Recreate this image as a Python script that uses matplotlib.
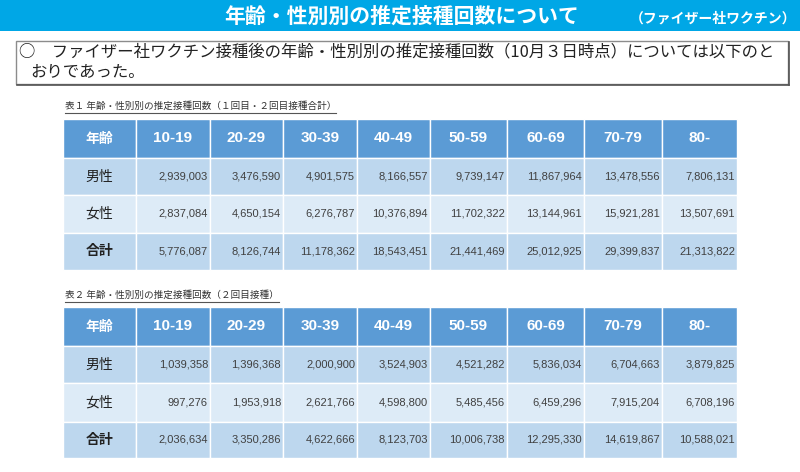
import matplotlib.pyplot as plt
from matplotlib.patches import Rectangle

plt.rcParams['font.family'] = ['Noto Sans CJK JP', 'DejaVu Sans']

# data
ages = ['10-19', '20-29', '30-39', '40-49', '50-59', '60-69', '70-79', '80-']
row_labels = ['男性', '女性', '合計']

male1 = [2939003, 3476590, 4901575, 8166557, 9739147, 11867964, 13478556, 7806131]
female1 = [2837084, 4650154, 6276787, 10376894, 11702322, 13144961, 15921281, 13507691]
total1 = [5776087, 8126744, 11178362, 18543451, 21441469, 25012925, 29399837, 21313822]

male2 = [1039358, 1396368, 2000900, 3524903, 4521282, 5836034, 6704663, 3879825]
female2 = [997276, 1953918, 2621766, 4598800, 5485456, 6459296, 7915204, 6708196]
total2 = [2036634, 3350286, 4622666, 8123703, 10006738, 12295330, 14619867, 10588021]

title = '年齢・性別別の推定接種回数について'
subtitle = '（ファイザー社ワクチン）'
note1 = '○　ファイザー社ワクチン接種後の年齢・性別別の推定接種回数（10月３日時点）については以下のと'
note2 = 'おりであった。'
cap1 = '表１ 年齢・性別別の推定接種回数（１回目・２回目接種合計）'
cap2 = '表２ 年齢・性別別の推定接種回数（２回目接種）'

# layout
col_edges = [63, 136, 210, 283, 357, 430, 507, 584, 662, 737]
head_col = '#5b9bd5'
row_cols = ['#bdd7ee', '#ddebf7', '#bdd7ee']

fig = plt.figure(figsize=(8, 4.72), dpi=100)
ax = fig.add_axes([0, 0, 1, 1])
ax.set_xlim(0, 800)
ax.set_ylim(472, 0)
ax.axis('off')

# title bar
ax.add_patch(Rectangle((0, 0), 800, 31, color='#00a7e6', lw=0))
ax.text(402, 16, title, color='white', fontsize=15, fontweight='bold', ha='center', va='center')
ax.text(796, 18, subtitle, color='white', fontsize=10, fontweight='bold', ha='right', va='center')

# note box
ax.add_patch(Rectangle((16, 41), 772, 43, fill=False, ec='#8c8c8c', lw=1))
ax.plot([17, 789], [85, 85], color='#555555', lw=1.2)
ax.plot([789, 789], [42, 85], color='#555555', lw=1.2)
ax.text(19, 52, note1, fontsize=11.8, color='#222222', ha='left', va='center')
ax.text(30, 73, note2, fontsize=11.8, color='#222222', ha='left', va='center')


def draw_table(cap, cap_y, row_edges, rows):
    t = ax.text(65, cap_y, cap, fontsize=6.9, color='#333333', ha='left', va='center')
    fig.canvas.draw()
    bb = t.get_window_extent().transformed(ax.transData.inverted())
    ax.plot([65, bb.x1], [cap_y + 7, cap_y + 7], color='#555555', lw=0.8)

    # header
    for j in range(len(col_edges) - 1):
        x0, x1 = col_edges[j], col_edges[j + 1]
        y0, y1 = row_edges[0], row_edges[1]
        ax.add_patch(Rectangle((x0, y0), x1 - x0, y1 - y0, fc=head_col, ec='white', lw=1))
        lab = '年齢' if j == 0 else ages[j - 1]
        ax.text((x0 + x1) / 2, (y0 + y1) / 2, lab, color='white', fontsize=11 if j else 10,
                fontweight='bold', ha='center', va='center',
                family=['Liberation Sans', 'Noto Sans CJK JP'])

    for i, vals in enumerate(rows):
        y0, y1 = row_edges[i + 1], row_edges[i + 2]
        for j in range(len(col_edges) - 1):
            x0, x1 = col_edges[j], col_edges[j + 1]
            ax.add_patch(Rectangle((x0, y0), x1 - x0, y1 - y0, fc=row_cols[i], ec='white', lw=1))
            if j == 0:
                ax.text((x0 + x1) / 2, (y0 + y1) / 2, row_labels[i], color='#222222', fontsize=10,
                        fontweight='bold' if i == 2 else 'normal', ha='center', va='center')
            else:
                ax.text(x1 - 2, (y0 + y1) / 2, f'{vals[j - 1]:,}', color='#404040', fontsize=8,
                        ha='right', va='center', family=['Liberation Sans'])


draw_table(cap1, 106, [119, 158, 195, 233, 270], [male1, female1, total1])
draw_table(cap2, 295, [307, 346, 383, 422, 458], [male2, female2, total2])

fig.savefig('out.png', dpi=100)
